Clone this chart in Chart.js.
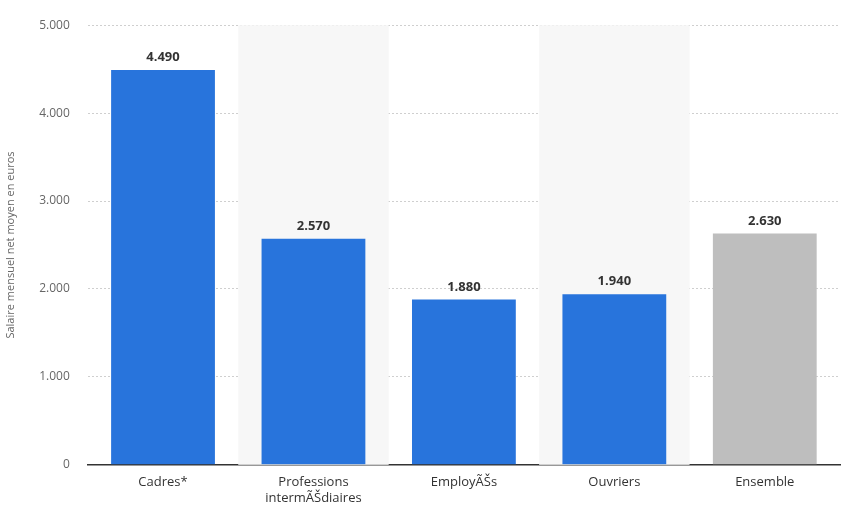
<!DOCTYPE html>
<html>
<head>
  <script src="https://cdn.jsdelivr.net/npm/chart.js@4"></script>
  <style>
    body { margin: 0; background: #fff; }
    #wrap { width: 850px; height: 516px; }
  </style>
</head>
<body>
  <div id="wrap"><canvas id="graph"></canvas></div>
  <script>
    var categories = [['Cadres*'], ['Professions', 'intermédiaires'], ['Employés'], ['Ouvriers'], ['Ensemble']];
    var salaries = [4490, 2570, 1880, 1940, 2630];
    var barColours = ['#2874dc', '#2874dc', '#2874dc', '#2874dc', '#bebebe'];
    var yTicks = [0, 1000, 2000, 3000, 4000, 5000];

    function fmt(v) {
      return v.toString().replace(/\B(?=(\d{3})+(?!\d))/g, '.');
    }

    // shaded bands behind every second category
    var bands = {
      id: 'bands',
      beforeDatasetsDraw: function(chart) {
        var x = chart.scales.x, a = chart.chartArea, ctx = chart.ctx;
        var w = x.getPixelForValue(1) - x.getPixelForValue(0);
        ctx.save();
        ctx.fillStyle = '#f7f7f7';
        for (var i = 1; i < categories.length; i += 2) {
          ctx.fillRect(x.getPixelForValue(i) - w / 2, a.top, w, a.bottom - a.top);
        }
        ctx.restore();
      }
    };

    var valueLabels = {
      id: 'valueLabels',
      afterDatasetsDraw: function(chart) {
        var ctx = chart.ctx;
        ctx.save();
        ctx.font = 'bold 13px "Open Sans", sans-serif';
        ctx.fillStyle = '#333';
        ctx.textAlign = 'center';
        ctx.textBaseline = 'bottom';
        chart.getDatasetMeta(0).data.forEach(function(bar, i) {
          ctx.fillText(fmt(salaries[i]), bar.x, bar.y - 6);
        });
        ctx.restore();
      }
    };

    new Chart(document.getElementById('graph'), {
      type: 'bar',
      data: {
        labels: categories,
        datasets: [{
          data: salaries,
          backgroundColor: barColours,
          barPercentage: 0.69,
          categoryPercentage: 1
        }]
      },
      options: {
        responsive: true,
        maintainAspectRatio: false,
        animation: false,
        layout: { padding: { top: 4, right: 10 } },
        plugins: { legend: { display: false }, tooltip: { enabled: false } },
        scales: {
          x: {
            grid: { display: false, drawTicks: false },
            border: { color: '#333', width: 1.5 },
            ticks: { color: '#333', font: { family: 'Open Sans', size: 13 }, padding: 10 }
          },
          y: {
            min: 0, max: 5000,
            afterBuildTicks: function(s) { s.ticks = yTicks.map(function(v) { return { value: v }; }); },
            grid: { color: '#cfcfcf', borderDash: [2, 2], drawTicks: false },
            border: { display: false, dash: [2, 2] },
            ticks: { color: '#666', font: { family: 'Open Sans', size: 12 }, padding: 18, callback: function(v) { return fmt(v); } },
            title: { display: true, text: 'Salaire mensuel net moyen en euros', color: '#666', font: { family: 'Open Sans', size: 11 } }
          }
        }
      },
      plugins: [bands, valueLabels]
    });
  </script>
</body>
</html>
